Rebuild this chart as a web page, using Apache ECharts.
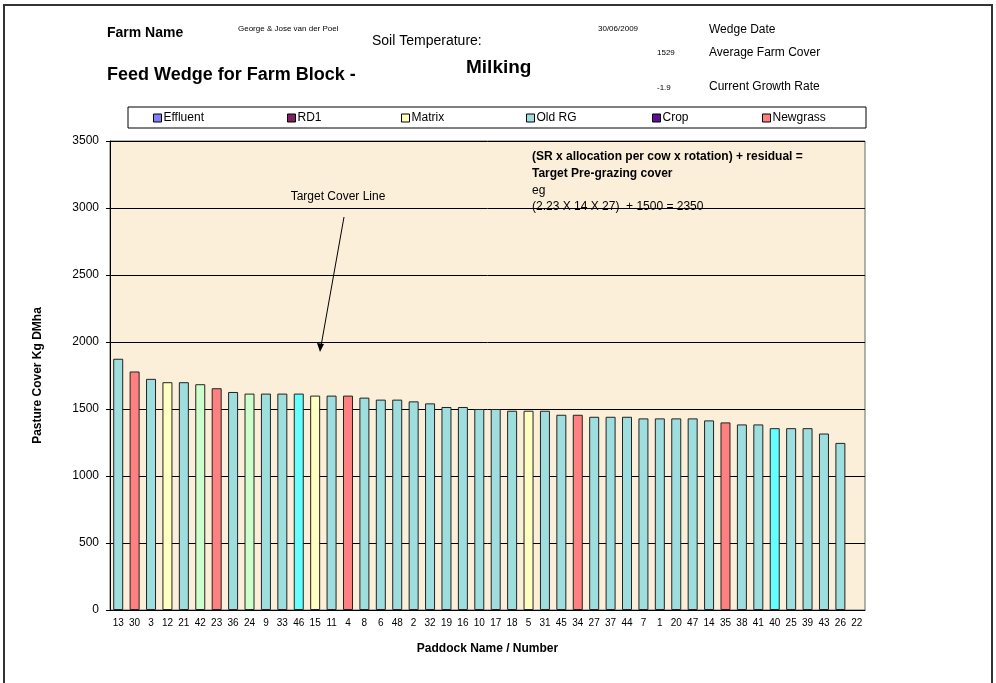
<!DOCTYPE html>
<html>
<head>
<meta charset="utf-8">
<script src="https://cdn.jsdelivr.net/npm/echarts@6/dist/echarts.min.js"></script>
<style>
  html, body { margin: 0; padding: 0; background: #fff; }
  #chart { width: 996px; height: 683px; }
</style>
</head>
<body>
<div id="chart"></div>
<script>
// paddocks, sorted by cover (kg DM/ha)
const paddocks = ['13','30','3','12','21','42','23','36','24','9','33','46','15','11','4','8','6','48','2','32',
  '19','16','10','17','18','5','31','45','34','27','37','44','7','1','20','47','14','35','38','41',
  '40','25','39','43','26','22']
const cover = [1875,1780,1725,1700,1700,1685,1655,1627,1615,1615,1615,1615,1600,1600,1600,1585,1570,1570,1557,1542,
  1515,1515,1500,1500,1487,1487,1487,1457,1457,1442,1442,1442,1430,1430,1430,1430,1415,1400,1385,1385,
  1357,1357,1357,1317,1247,null]
const paddockType = ['Old RG','Newgrass','Old RG','Matrix','Old RG','Other A','Newgrass','Old RG','Other A','Old RG',
  'Old RG','Other B','Matrix','Old RG','Newgrass','Old RG','Old RG','Old RG','Old RG','Old RG',
  'Old RG','Old RG','Old RG','Old RG','Old RG','Matrix','Old RG','Old RG','Newgrass','Old RG',
  'Old RG','Old RG','Old RG','Old RG','Old RG','Old RG','Old RG','Newgrass','Old RG','Old RG',
  'Other B','Old RG','Old RG','Old RG','Old RG','Old RG']
const legendTypes = ['Effluent','RD1','Matrix','Old RG','Crop','Newgrass']
const allTypes = legendTypes.concat(['Other A','Other B'])

const typeColor = {
  'Effluent': '#8080FF',
  'RD1': '#802060',
  'Matrix': '#FFFFC0',
  'Old RG': '#9FDEDE',
  'Crop': '#5E0E92',
  'Newgrass': '#FF8080',
  'Other A': '#CCFFCC',
  'Other B': '#66FFFF'
}
const legendLeft = [153, 287, 401, 526, 652, 762]

const font = '"Liberation Sans", Arial, sans-serif'

let myChart = echarts.init(document.getElementById('chart'))

const series = allTypes.map(t => ({
  name: t,
  type: 'bar',
  stack: 'wedge',
  barWidth: 10,
  itemStyle: { color: typeColor[t], borderColor: '#222', borderWidth: 1 },
  emphasis: { disabled: true },
  data: cover.map((v, i) => (paddockType[i] === t && v != null) ? v : '-')
}))

function txt(x, y, text, size, bold, extra) {
  return Object.assign({
    type: 'text', x: x, y: y,
    style: { text: text, font: (bold ? 'bold ' : '') + size + 'px ' + font, fill: '#000', textVerticalAlign: 'middle' }
  }, extra || {})
}

let option = {
  animation: false,
  backgroundColor: '#fff',
  grid: {
    left: 110, right: 131, top: 141, bottom: 73,
    show: true, backgroundColor: '#FBEFD9', borderColor: '#666', borderWidth: 1
  },
  legend: legendTypes.map((t, i) => ({
    data: [t],
    left: legendLeft[i], top: 112,
    icon: 'rect', itemWidth: 8, itemHeight: 8, itemGap: 0,
    padding: 0,
    selectedMode: false,
    itemStyle: { borderColor: '#000', borderWidth: 1 },
    textStyle: { fontFamily: font, fontSize: 12, color: '#000', padding: [0, 0, 0, -3] }
  })),
  xAxis: {
    type: 'category',
    data: paddocks,
    name: 'Paddock Name / Number',
    nameLocation: 'middle',
    nameGap: 33,
    nameTextStyle: { fontFamily: font, fontSize: 12, fontWeight: 'bold', color: '#000' },
    axisLine: { lineStyle: { color: '#000' } },
    axisTick: { length: 4, lineStyle: { color: '#000' } },
    axisLabel: { interval: 0, fontFamily: font, fontSize: 10, color: '#000', margin: 8 },
    splitLine: { show: false }
  },
  yAxis: {
    type: 'value',
    min: 0, max: 3500, interval: 500,
    name: 'Pasture Cover Kg DMha',
    nameLocation: 'middle',
    nameGap: 66,
    nameTextStyle: { fontFamily: font, fontSize: 12, fontWeight: 'bold', color: '#000' },
    axisLine: { show: true, lineStyle: { color: '#000' } },
    axisTick: { show: true, length: 4, lineStyle: { color: '#000' } },
    axisLabel: { fontFamily: font, fontSize: 12, color: '#000', margin: 11, formatter: v => String(v) },
    splitLine: { lineStyle: { color: '#000', width: 1 } }
  },
  graphic: [
    // outer frame
    { type: 'rect', shape: { x: 4, y: 5, width: 988, height: 700 }, style: { fill: 'none', stroke: '#333', lineWidth: 2 }, z: -10 },
    // legend box
    { type: 'rect', shape: { x: 128, y: 107, width: 738, height: 21 }, style: { fill: '#fff', stroke: '#000', lineWidth: 1 }, z: -5 },
    // header
    txt(107, 33, 'Farm Name', 14, true),
    txt(238, 29, 'George & Jose van der Poel', 8, false),
    txt(372, 41, 'Soil Temperature:', 14, false),
    txt(107, 75, 'Feed Wedge for Farm Block -', 18, true),
    txt(466, 68, 'Milking', 19, true),
    txt(598, 29, '30/06/2009', 8, false),
    txt(657, 53, '1529', 8, false),
    txt(657, 88, '-1.9', 8, false),
    txt(709, 30, 'Wedge Date', 12, false),
    txt(709, 53, 'Average Farm Cover', 12, false),
    txt(709, 87, 'Current Growth Rate', 12, false),
    // notes in plot
    txt(532, 157, '(SR x allocation per cow x rotation) + residual =', 12, true),
    txt(532, 174, 'Target Pre-grazing cover', 12, true),
    txt(532, 191, 'eg', 12, false),
    txt(532, 207, '(2.23 X 14 X 27)  + 1500 = 2350', 12, false),
    txt(338, 197, 'Target Cover Line', 12, false, { style: { text: 'Target Cover Line', font: '12px ' + font, fill: '#000', textAlign: 'center', textVerticalAlign: 'middle' } }),
    // arrow
    { type: 'line', shape: { x1: 344, y1: 217, x2: 321, y2: 346 }, style: { stroke: '#000', lineWidth: 1 } },
    { type: 'polygon', shape: { points: [[320, 352], [317, 343], [324, 344]] }, style: { fill: '#000' } }
  ],
  series: series
}
myChart.setOption(option)
</script>
</body>
</html>
